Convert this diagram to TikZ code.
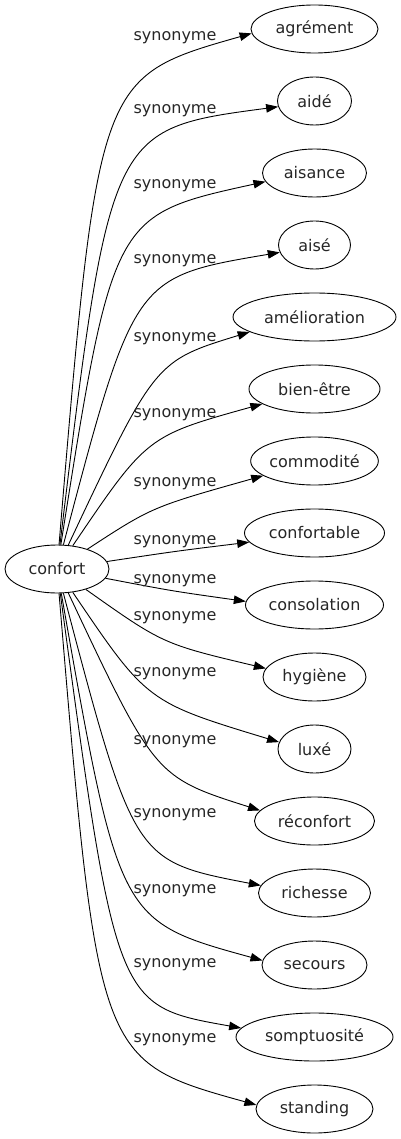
\documentclass[tikz,border=0pt]{standalone}
\usepackage{fontspec}
\setmainfont{DejaVu Sans}
\usetikzlibrary{arrows.meta,shapes.geometric}
\begin{document}
\begin{tikzpicture}[x=1pt,y=-1pt,
  every node/.style={font=\fontsize{16}{19}\selectfont, text=black!85},
  term/.style={draw, ellipse, inner sep=0pt, minimum height=48pt, line width=0.9pt},
  lbl/.style={anchor=base, inner sep=0pt},
  syn/.style={draw, line width=0.9pt, -{Triangle[length=12pt,width=8.5pt]}}]
\useasboundingbox (0,0) rectangle (401,1139);
\node[term, minimum width=104pt] (confort) at (57,569) {confort};
\node[term, minimum width=127pt] (n1) at (314.5,29) {agrément};
\node[term, minimum width=74pt] (n2) at (314.5,101) {aidé};
\node[term, minimum width=104pt] (n3) at (314.5,173) {aisance};
\node[term, minimum width=72pt] (n4) at (314.5,245) {aisé};
\node[term, minimum width=163pt] (n5) at (314.5,317) {amélioration};
\node[term, minimum width=131pt] (n6) at (314.5,389) {bien-être};
\node[term, minimum width=123pt] (n7) at (314.5,461) {commodité};
\node[term, minimum width=140pt] (n8) at (314.5,533) {confortable};
\node[term, minimum width=138pt] (n9) at (314.5,605) {consolation};
\node[term, minimum width=103pt] (n10) at (314.5,677) {hygiène};
\node[term, minimum width=73pt] (n11) at (314.5,749) {luxé};
\node[term, minimum width=120pt] (n12) at (314.5,821) {réconfort};
\node[term, minimum width=112pt] (n13) at (314.5,893) {richesse};
\node[term, minimum width=105pt] (n14) at (314.5,965) {secours};
\node[term, minimum width=157pt] (n15) at (314.5,1037) {somptuosité};
\node[term, minimum width=117pt] (n16) at (314.5,1109) {standing};
\coordinate (c1) at (98,77);
\coordinate (c2) at (110,129);
\coordinate (c3) at (113,215);
\coordinate (c4) at (134,277);
\coordinate (c5) at (155,361);
\coordinate (c6) at (147,436);
\coordinate (c7) at (152,507);
\coordinate (c8) at (177,551);
\coordinate (c9) at (172,591);
\coordinate (c10) at (163,644);
\coordinate (c11) at (147,702);
\coordinate (c12) at (155,777);
\coordinate (c13) at (134,861);
\coordinate (c14) at (119,921);
\coordinate (c15) at (116,1006);
\coordinate (c16) at (98,1061);
\draw[syn] (confort) .. controls (c1) .. (n1.184);
\draw[syn] (confort) .. controls (c2) .. (n2.189);
\draw[syn] (confort) .. controls (c3) .. (n3.190);
\draw[syn] (confort) .. controls (c4) .. (n4.192);
\draw[syn] (confort) .. controls (c5) .. (n5.193);
\draw[syn] (confort) .. controls (c6) .. (n6.196);
\draw[syn] (confort) .. controls (c7) .. (n7.196);
\draw[syn] (confort) .. controls (c8) .. (n8.188);
\draw[syn] (confort) .. controls (c9) .. (n9.177);
\draw[syn] (confort) .. controls (c10) .. (n10.170);
\draw[syn] (confort) .. controls (c11) .. (n11.169);
\draw[syn] (confort) .. controls (c12) .. (n12.169);
\draw[syn] (confort) .. controls (c13) .. (n13.172);
\draw[syn] (confort) .. controls (c14) .. (n14.175);
\draw[syn] (confort) .. controls (c15) .. (n15.173);
\draw[syn] (confort) .. controls (c16) .. (n16.176);
\node[lbl] (l1) at (175,41) {synonyme};
\node[lbl] (l2) at (175,114) {synonyme};
\node[lbl] (l3) at (175,189) {synonyme};
\node[lbl] (l4) at (175,264) {synonyme};
\node[lbl] (l5) at (175,341) {synonyme};
\node[lbl] (l6) at (175,417) {synonyme};
\node[lbl] (l7) at (175,486) {synonyme};
\node[lbl] (l8) at (175,544) {synonyme};
\node[lbl] (l9) at (175,583) {synonyme};
\node[lbl] (l10) at (175,620) {synonyme};
\node[lbl] (l11) at (175,676) {synonyme};
\node[lbl] (l12) at (175,744) {synonyme};
\node[lbl] (l13) at (175,817) {synonyme};
\node[lbl] (l14) at (175,893) {synonyme};
\node[lbl] (l15) at (175,967) {synonyme};
\node[lbl] (l16) at (175,1042) {synonyme};
\end{tikzpicture}
\end{document}
